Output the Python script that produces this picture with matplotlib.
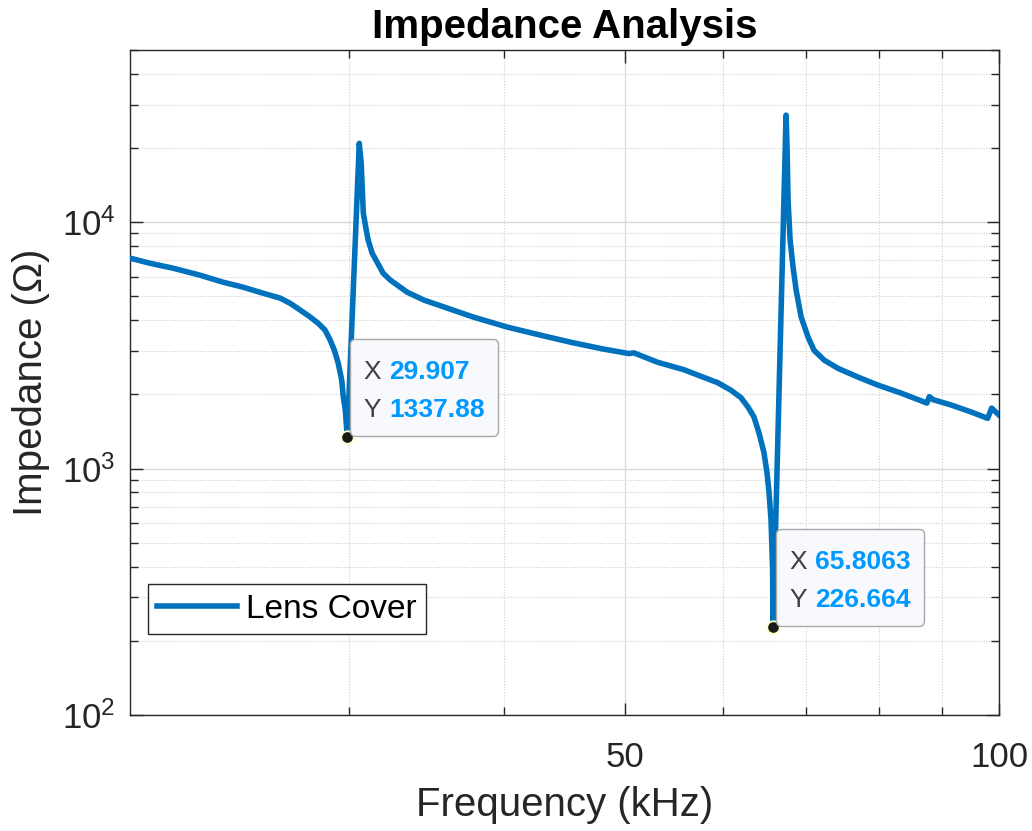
import matplotlib
matplotlib.use('Agg')
import matplotlib.pyplot as plt
from matplotlib.ticker import FixedLocator, FuncFormatter, LogLocator, NullFormatter
from matplotlib.offsetbox import TextArea, HPacker, VPacker, DrawingArea, AnnotationBbox

plt.rcParams['font.family'] = ['Liberation Sans', 'DejaVu Sans']

# Impedance sweep (kHz, Ohm)
freq_khz = [20.0, 20.74, 21.65, 22.77, 23.76, 24.66, 25.59, 26.41, 26.9, 27.41,
            27.93, 28.34, 28.7, 28.98, 29.2, 29.41, 29.6, 29.69, 29.8, 29.907,
            30.58, 30.69, 30.81, 30.98, 31.09, 31.32, 31.64, 31.96, 32.4, 33.42,
            34.47, 36.0, 37.78, 40.25, 42.78, 45.33, 48.0, 50.4, 50.85, 53.16,
            55.79, 57.57, 59.42, 60.87, 62.01, 62.83, 63.52, 64.12, 64.71, 65.08,
            65.32, 65.56, 65.75, 65.8063,
            67.41, 67.54, 67.66, 67.92, 68.29, 68.68, 69.32, 70.22, 71.0, 72.34,
            74.24, 77.04, 79.95, 83.45, 87.5, 87.9, 88.5, 91.58, 95.04, 97.92,
            98.65, 99.0, 100.0]
impedance = [7150, 6820, 6510, 6095, 5710, 5450, 5150, 4920, 4690, 4400,
             4120, 3890, 3650, 3320, 3025, 2680, 2290, 1950, 1730, 1337.88,
             20900, 17350, 10880, 9280, 8450, 7485, 6820, 6210, 5815, 5200,
             4830, 4480, 4120, 3750, 3480, 3250, 3060, 2930, 2950, 2700,
             2520, 2370, 2230, 2080, 1940, 1776, 1620, 1393, 1160, 959,
             800, 618, 388, 226.664,
             27200, 19600, 12280, 8450, 6570, 5300, 4120, 3415, 3020, 2756,
             2550, 2350, 2180, 2024, 1845, 1960, 1905, 1810, 1695, 1600,
             1760, 1730, 1650]
series_name = 'Lens Cover'

# data tips
tip_x = [29.907, 65.8063]
tip_y = [1337.88, 226.664]

x_ticks = [50, 100]
x_minor = [30, 40, 60, 70, 80, 90]

dark = '#262626'
blue = '#0072BD'

fig = plt.figure(figsize=(10.32, 8.31), dpi=100)
ax = fig.add_axes([130 / 1032, 116 / 831, 869 / 1032, 665 / 831])

ax.plot(freq_khz, impedance, color=blue, lw=4, label=series_name, zorder=3,
        solid_joinstyle='round')
ax.plot(tip_x, tip_y, 'o', ms=9, mfc='#1a1a1a', mec='#ffffc8', mew=1.3,
        label='_nolegend_', zorder=5)

ax.set_xscale('log')
ax.set_yscale('log')
ax.set_xlim(20, 100)
ax.set_ylim(100, 5e4)

ax.xaxis.set_major_locator(FixedLocator(x_ticks))
ax.xaxis.set_major_formatter(FuncFormatter(lambda v, p: f'{v:g}'))
ax.xaxis.set_minor_locator(FixedLocator(x_minor))
ax.xaxis.set_minor_formatter(NullFormatter())
ax.yaxis.set_major_locator(LogLocator(base=10))
ax.yaxis.set_minor_locator(LogLocator(base=10, subs=range(2, 10)))
ax.yaxis.set_minor_formatter(NullFormatter())

ax.tick_params(which='both', direction='in', top=True, right=True,
               colors=dark, labelsize=25, width=1.0)
ax.tick_params(which='major', length=9)
ax.tick_params(which='minor', length=6)
ax.tick_params(axis='x', which='major', pad=19)
ax.tick_params(axis='y', which='major', pad=10.5)
for s in ax.spines.values():
    s.set_color(dark)
    s.set_linewidth(1.0)

ax.grid(True, which='major', color='#dadada', lw=1.0, ls='-')
ax.grid(True, which='minor', color='#cfcfcf', lw=0.8, ls=(0, (1, 1.5)))
ax.set_axisbelow(True)

ax.set_title('Impedance Analysis', fontsize=29, fontweight='bold', pad=8.6)
ax.set_xlabel('Frequency (kHz)', fontsize=29, color=dark, labelpad=8)
ax.set_ylabel('Impedance (Ω)', fontsize=29, color=dark, labelpad=8.5)

leg = ax.legend(loc='lower left', bbox_to_anchor=(0.0207, 0.1218), borderaxespad=0,
                fontsize=24, fancybox=False, edgecolor=dark, framealpha=1,
                handlelength=2.4, handletextpad=0.25, borderpad=0.28)
leg.get_frame().set_linewidth(1.0)

# data tip boxes
for tx, ty in zip(tip_x, tip_y):
    keys = TextArea('X\nY', textprops=dict(color='#404040', fontsize=19, linespacing=1.75))
    vals = TextArea(f'{tx:g}\n{ty:g}', textprops=dict(color='#0099FF', fontsize=19,
                                                     fontweight='bold', linespacing=1.75))
    row = HPacker(children=[keys, vals], align='top', pad=0, sep=6)
    content = VPacker(children=[DrawingArea(1, 6), row], align='left', pad=0, sep=0)
    ab = AnnotationBbox(content, (tx, ty), xybox=(11.5, 10.8), xycoords='data',
                        boxcoords='offset points', box_alignment=(0, 0), fontsize=19,
                        bboxprops=dict(boxstyle='round,pad=0.5,rounding_size=0.2',
                                       fc='#f8f9fc', ec='#a8a8a8', lw=1.0),
                        zorder=6)
    ax.add_artist(ab)

fig.savefig('out.png', dpi=100)
